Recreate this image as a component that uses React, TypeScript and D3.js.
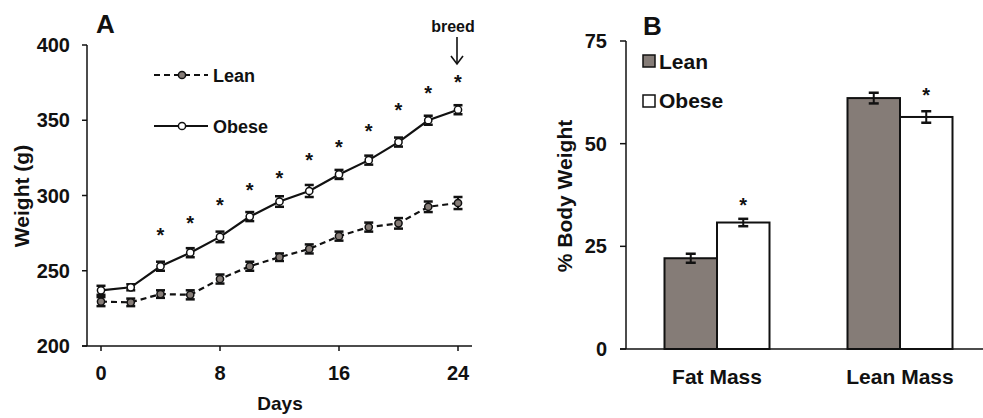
import React from "react";
import * as d3 from "d3";

// ---------- Panel A data ----------
const days = [0, 2, 4, 6, 8, 10, 12, 14, 16, 18, 20, 22, 24];
const obeseWeight = [237, 239, 253, 262, 272.5, 286, 296, 303, 314, 323.5, 335.5, 350, 357];
const obeseErr = [3, 2, 3, 3, 3.5, 3, 3.5, 4, 3, 3, 3, 3, 3];
const leanWeight = [229.5, 229, 234.5, 234, 244.5, 253, 259, 264.5, 273, 279, 281.5, 292.5, 295];
const leanErr = [3, 2.5, 2.5, 3, 3, 3, 2.5, 3, 3, 3, 3.5, 3.5, 4];
const sigDays = [4, 6, 8, 10, 12, 14, 16, 18, 20, 22, 24];
const sigLevel = [275.7, 283.7, 295.7, 305.6, 313.6, 325.6, 334.2, 344.9, 358.8, 370.1, 377.4];
const yTicksA = [200, 250, 300, 350, 400];
const xTicksA = [0, 8, 16, 24];

// ---------- Panel B data ----------
const categories = ["Fat Mass", "Lean Mass"];
const groups = ["Lean", "Obese"];
const leanPct = [22.1, 61.1];
const leanPctErr = [1.1, 1.3];
const obesePct = [30.8, 56.5];
const obesePctErr = [0.9, 1.4];
const sigPct = [35.9, 62.7];
const yTicksB = [0, 25, 50, 75];

const FONT = "'Liberation Sans', Arial, Helvetica, sans-serif";
const GRAY = "#857c77";

export default function App() {
  // Panel A scales
  const xA = d3.scaleLinear().domain([0, 24]).range([101, 458]);
  const yA = d3.scaleLinear().domain([200, 400]).range([346, 45]);
  const lineGen = (vals: number[]) =>
    d3
      .line<number>()
      .x((_, i) => xA(days[i]))
      .y((v) => yA(v))(vals) as string;

  // Panel B scales
  const xB = d3.scalePoint<string>().domain(categories).range([717, 900]);
  const sub = d3.scaleBand<string>().domain(groups).range([-52.5, 52.5]).padding(0);
  const yB = d3.scaleLinear().domain([0, 75]).range([349, 41]);

  const errBar = (x: number, y0: number, y1: number, cap: number, key: string) => (
    <g key={key} stroke="#111" strokeWidth={2}>
      <line x1={x} x2={x} y1={y0} y2={y1} />
      <line x1={x - cap} x2={x + cap} y1={y0} y2={y0} strokeWidth={2.5} />
      <line x1={x - cap} x2={x + cap} y1={y1} y2={y1} strokeWidth={2.5} />
    </g>
  );

  const series = [
    { vals: leanWeight, err: leanErr, fill: GRAY, dash: "6,4", name: "Lean" },
    { vals: obeseWeight, err: obeseErr, fill: "#fff", dash: undefined, name: "Obese" },
  ];

  return (
    <svg
      width={983}
      height={418}
      style={{ position: "absolute", left: 0, top: 0, background: "#fff" }}
      fontFamily={FONT}
      fontWeight="bold"
    >
      {/* ================= Panel A ================= */}
      <text x={96} y={33} fontSize={26} fill="#111">A</text>

      {/* axes */}
      <line x1={87} x2={87} y1={45} y2={346} stroke="#111" strokeWidth={1.5} />
      <line x1={82} x2={472} y1={346} y2={346} stroke="#111" strokeWidth={1.5} />
      {yTicksA.map((t) => (
        <g key={"ya" + t}>
          <line x1={82} x2={87} y1={yA(t)} y2={yA(t)} stroke="#111" strokeWidth={1.5} />
          <text x={70} y={yA(t) + 7} fontSize={20} textAnchor="end" fill="#111">{t}</text>
        </g>
      ))}
      {xTicksA.map((t) => (
        <g key={"xa" + t}>
          <line x1={xA(t)} x2={xA(t)} y1={346} y2={351} stroke="#111" strokeWidth={1.5} />
          <text x={xA(t)} y={380} fontSize={20} textAnchor="middle" fill="#111">{t}</text>
        </g>
      ))}
      <text x={280} y={410} fontSize={19} textAnchor="middle" fill="#111">Days</text>
      <text
        transform="translate(29,196) rotate(-90)"
        fontSize={21}
        textAnchor="middle"
        fill="#111"
      >
        Weight (g)
      </text>

      {/* lines */}
      {series.map((s) => (
        <path
          key={"l" + s.name}
          d={lineGen(s.vals)}
          fill="none"
          stroke="#111"
          strokeWidth={2.2}
          strokeDasharray={s.dash}
        />
      ))}
      {series.map((s) =>
        s.vals.map((v, i) => (
          <g key={s.name + i}>
            {errBar(xA(days[i]), yA(v + s.err[i]), yA(v - s.err[i]), 4.5, "e")}
            <circle cx={xA(days[i])} cy={yA(v)} r={3.6} fill={s.fill} stroke="#111" strokeWidth={1.5} />
          </g>
        ))
      )}

      {/* significance */}
      {sigDays.map((d, i) => (
        <text key={"s" + d} x={xA(d)} y={yA(sigLevel[i]) + 10} fontSize={20} textAnchor="middle" fill="#111">*</text>
      ))}

      {/* breed arrow */}
      <text x={453} y={32} fontSize={16} textAnchor="middle" fill="#111">breed</text>
      <g stroke="#111" strokeWidth={1.6} fill="none">
        <line x1={457} x2={457} y1={37} y2={64} />
        <polyline points="451,56 457,64 463,56" />
      </g>

      {/* legend A */}
      <line x1={154} x2={208} y1={75} y2={75} stroke="#111" strokeWidth={2.2} strokeDasharray="6,4" />
      <circle cx={182} cy={75} r={3.6} fill={GRAY} stroke="#111" strokeWidth={1.5} />
      <text x={213} y={81.5} fontSize={18} fill="#111">Lean</text>
      <line x1={154} x2={208} y1={126} y2={126} stroke="#111" strokeWidth={2.2} />
      <circle cx={182} cy={126} r={3.6} fill="#fff" stroke="#111" strokeWidth={1.5} />
      <text x={213} y={132.5} fontSize={18} fill="#111">Obese</text>

      {/* ================= Panel B ================= */}
      <text x={643} y={35} fontSize={26} fill="#111">B</text>
      <line x1={626} x2={626} y1={41} y2={349} stroke="#111" strokeWidth={1.5} />
      <line x1={620} x2={983} y1={349} y2={349} stroke="#111" strokeWidth={1.5} />
      {yTicksB.map((t) => (
        <g key={"yb" + t}>
          <line x1={620} x2={626} y1={yB(t)} y2={yB(t)} stroke="#111" strokeWidth={1.5} />
          <text x={607} y={yB(t) + 7} fontSize={20} textAnchor="end" fill="#111">{t}</text>
        </g>
      ))}
      <text
        transform="translate(572,196) rotate(-90)"
        fontSize={21}
        textAnchor="middle"
        fill="#111"
      >
        % Body Weight
      </text>

      {categories.map((c, i) => {
        const cx = xB(c) as number;
        const bars = [
          { g: "Lean", v: leanPct[i], e: leanPctErr[i], fill: GRAY },
          { g: "Obese", v: obesePct[i], e: obesePctErr[i], fill: "#fff" },
        ];
        return (
          <g key={c}>
            {bars.map((b) => {
              const x0 = cx + (sub(b.g) as number);
              const w = sub.bandwidth();
              return (
                <g key={b.g}>
                  <rect x={x0} y={yB(b.v)} width={w} height={yB(0) - yB(b.v)} fill={b.fill} stroke="#111" strokeWidth={2} />
                  {errBar(x0 + w / 2, yB(b.v + b.e), yB(b.v - b.e), 5, "eb")}
                </g>
              );
            })}
            <text
              x={cx + (sub("Obese") as number) + sub.bandwidth() / 2}
              y={yB(sigPct[i]) + 10}
              fontSize={20}
              textAnchor="middle"
              fill="#111"
            >
              *
            </text>
            <text x={cx} y={384} fontSize={21} textAnchor="middle" fill="#111">{c}</text>
          </g>
        );
      })}

      {/* legend B */}
      <rect x={643} y={55} width={12} height={12} fill={GRAY} stroke="#111" strokeWidth={1.5} />
      <text x={659} y={68.5} fontSize={21} fill="#111">Lean</text>
      <rect x={643} y={95} width={12} height={12} fill="#fff" stroke="#111" strokeWidth={1.5} />
      <text x={659} y={108} fontSize={21} fill="#111">Obese</text>
    </svg>
  );
}
